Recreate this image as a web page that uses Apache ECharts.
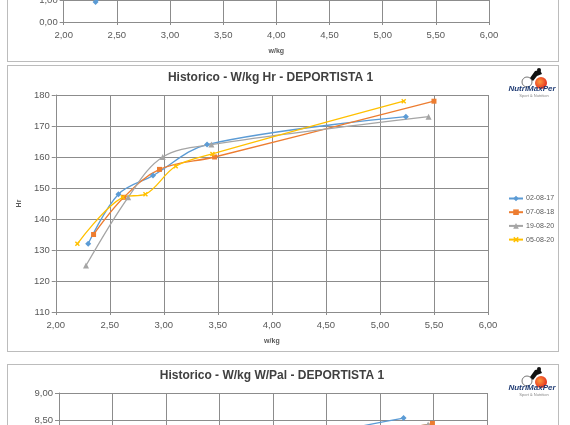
<!DOCTYPE html>
<html>
<head>
<meta charset="utf-8">
<script src="https://cdn.jsdelivr.net/npm/echarts@6/dist/echarts.min.js"></script>
<style>
  body { margin: 0; width: 570px; height: 425px; overflow: hidden; background: #fff; position: relative; }
  .box { position: absolute; left: 7px; width: 552px; height: 287px; border: 1px solid #bcbcbc; box-sizing: border-box; background: #fff; }
</style>
</head>
<body>
<div id="lact" class="box" style="top:-225px"></div>
<div id="hr" class="box" style="top:65px"></div>
<div id="wpal" class="box" style="top:364px"></div>

<script>
// fechas de las pruebas
var fechas = ["02-08-17", "07-08-18", "19-08-20", "05-08-20"];
var colores = ["#5b9bd5", "#ed7d31", "#a5a5a5", "#ffc000"];

// w/kg - Hr
var hr_020817 = [[2.30, 132], [2.58, 148], [2.90, 154], [3.40, 164], [5.24, 173]];
var hr_070818 = [[2.35, 135], [2.63, 147], [2.96, 156], [3.47, 160], [5.50, 178]];
var hr_190820 = [[2.28, 125], [2.67, 147], [2.99, 160], [3.44, 164], [5.45, 173]];
var hr_050820 = [[2.20, 132], [2.62, 147], [2.83, 148], [3.11, 157], [3.45, 161], [5.22, 178]];

// w/kg - lactato (solo se ve la parte baja)
var lact_020817 = [[2.30, 0.9], [2.58, 1.9], [2.90, 2.6], [3.42, 3.6], [5.24, 8.2]];
var lact_070818 = [[2.35, 1.4], [2.63, 2.0], [2.96, 2.8], [3.47, 3.5], [5.50, 8.6]];
var lact_190820 = [[2.28, 1.5], [2.67, 2.1], [2.99, 3.0], [3.44, 3.7], [5.45, 8.4]];
var lact_050820 = [[2.20, 1.6], [2.62, 2.0], [2.83, 2.3], [3.11, 2.9], [3.45, 3.4], [5.22, 8.0]];

// w/kg - W/Pal (solo se ve la parte alta)
var wpal_020817 = [[2.30, 5.6], [2.58, 6.3], [2.90, 6.9], [3.42, 7.7], [5.22, 8.54]];
var wpal_070818 = [[2.35, 5.7], [2.63, 6.4], [2.96, 7.0], [3.47, 7.6], [5.49, 8.44]];
var wpal_190820 = [[2.28, 5.4], [2.67, 6.4], [2.99, 7.1], [3.44, 7.7], [5.45, 8.42]];
var wpal_050820 = [[2.20, 5.5], [2.62, 6.3], [2.83, 6.5], [3.11, 7.0], [3.45, 7.4], [5.22, 8.1]];

// ejes
var xMin = 2, xMax = 6, xStep = 0.5;

var simbolos = [
  "diamond",
  "rect",
  "triangle",
  "path://M2,0L5,3L8,0L10,2L7,5L10,8L8,10L5,7L2,10L0,8L3,5L0,2Z"
];
var tamanos = [6, 5, 6, 5];

var gris = "#8c8c8c";
var txt = "#595959";

function coma(v) {
  return v.toFixed(2).replace(".", ",");
}

function logo() {
  return [
    { type: "circle", shape: { cx: 519, cy: 16, r: 5 }, style: { fill: "none", stroke: "#777", lineWidth: 1 } },
    { type: "circle", shape: { cx: 533, cy: 17, r: 6 },
      style: { fill: new echarts.graphic.RadialGradient(0.4, 0.4, 0.7, [{ offset: 0, color: "#ff9a3c" }, { offset: 1, color: "#e0201b" }]) } },
    { type: "polygon", shape: { points: [[522, 12], [527, 5], [532, 4], [534, 8], [529, 10], [525, 15]] }, style: { fill: "#111" } },
    { type: "circle", shape: { cx: 531, cy: 4, r: 2 }, style: { fill: "#111" } },
    { type: "text", style: { x: 524, y: 23, text: "NutriMaxPer", fill: "#1f3b73", font: "italic bold 8px 'Liberation Sans'", align: "center", verticalAlign: "middle" } },
    { type: "text", style: { x: 526, y: 30, text: "Sport & Nutrition", fill: "#888", font: "4px 'Liberation Sans'", align: "center", verticalAlign: "middle" } }
  ];
}

function pintar(id, cfg) {
  var chart = echarts.init(document.getElementById(id));
  var series = cfg.datos.map(function (d, i) {
    return {
      name: fechas[i],
      type: "line",
      data: d,
      smooth: 0.35,
      symbol: simbolos[i],
      symbolSize: tamanos[i],
      showSymbol: true,
      lineStyle: { color: colores[i], width: 1.3 },
      itemStyle: { color: colores[i], borderWidth: 0 },
      animation: false
    };
  });
  var centro = cfg.left + (550 - cfg.left - cfg.right) / 2;
  chart.setOption({
    backgroundColor: "#fff",
    animation: false,
    textStyle: { fontFamily: "Liberation Sans" },
    graphic: [
      { type: "text", style: { x: centro, y: cfg.titleY, text: cfg.titulo, fill: "#404040", font: "bold 12px 'Liberation Sans'", align: "center", verticalAlign: "middle" } }
    ].concat(logo()),
    grid: { left: cfg.left, right: cfg.right, top: cfg.top, bottom: 39 },
    legend: {
      data: fechas,
      orient: "vertical",
      left: 500,
      top: 129,
      padding: 0,
      itemWidth: 14,
      itemHeight: 7,
      itemGap: 6.7,
      textStyle: { fontSize: 7, color: txt, padding: [0, 0, 0, -2] }
    },
    xAxis: {
      type: "value",
      min: xMin,
      max: xMax,
      interval: xStep,
      name: "w/kg",
      nameLocation: "middle",
      nameGap: 26,
      nameTextStyle: { fontSize: 7, fontWeight: "bold", color: txt },
      axisLine: { lineStyle: { color: gris } },
      axisTick: { show: true, length: 3, lineStyle: { color: gris } },
      axisLabel: { fontSize: 9.5, color: txt, margin: 8, formatter: coma },
      splitLine: { lineStyle: { color: gris, width: 1 } }
    },
    yAxis: {
      type: "value",
      min: cfg.yMin,
      max: cfg.yMax,
      interval: cfg.yStep,
      name: cfg.yNombre,
      nameLocation: "middle",
      nameRotate: 90,
      nameGap: cfg.nameGap,
      nameTextStyle: { fontSize: 7, fontWeight: "bold", color: txt },
      axisLine: { show: true, lineStyle: { color: gris } },
      axisTick: { show: true, length: 4, lineStyle: { color: gris } },
      axisLabel: { fontSize: 9.5, color: txt, margin: 6, formatter: cfg.fmt },
      splitLine: { lineStyle: { color: gris, width: 1 } }
    },
    series: series
  });
}

pintar("lact", {
  titulo: "Historico - W/kg Lact - DEPORTISTA 1",
  datos: [lact_020817, lact_070818, lact_190820, lact_050820],
  left: 54, right: 69, top: 25, titleY: 12,
  yMin: 0, yMax: 10, yStep: 1, yNombre: "mmol/l", nameGap: 34, fmt: coma
});

pintar("hr", {
  titulo: "Historico - W/kg Hr - DEPORTISTA 1",
  datos: [hr_020817, hr_070818, hr_190820, hr_050820],
  left: 45, right: 70, top: 29, titleY: 12,
  yMin: 110, yMax: 180, yStep: 10, yNombre: "Hr", nameGap: 29,
  fmt: function (v) { return String(v); }
});

pintar("wpal", {
  titulo: "Historico - W/kg W/Pal - DEPORTISTA 1",
  datos: [wpal_020817, wpal_070818, wpal_190820, wpal_050820],
  left: 49, right: 71, top: 28, titleY: 11,
  yMin: 5, yMax: 9, yStep: 0.5, yNombre: "W/Pal", nameGap: 36, fmt: coma
});
</script>
</body>
</html>
